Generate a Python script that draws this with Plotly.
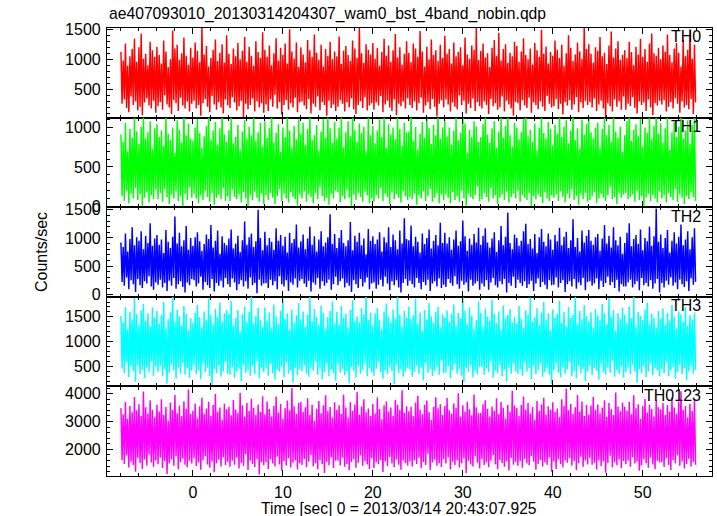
import numpy as np
import plotly.graph_objects as go
from plotly.subplots import make_subplots

# ---------------- data ----------------
title_text = "ae407093010_20130314204307_wam0_bst_4band_nobin.qdp"
x_title = "Time [sec] 0 = 2013/03/14 20:43:07.925"
y_title = "Counts/sec"
panel_names = ["TH0", "TH1", "TH2", "TH3", "TH0123"]
t_start = -8.0      # first time bin [s]
t_span = 64.0       # covered time [s]

# successive local peaks / troughs of each light curve (counts/sec)
th0_peaks = [
 1120, 980, 1260, 890, 1050, 1170, 1340, 960, 1200, 1430, 1010, 1090, 900, 1290, 1150, 1040,
 1210, 1070, 930, 1310, 1130, 870, 1000, 1480, 1180, 1240, 990, 1100, 1360, 1060, 910, 1190,
 1030, 1280, 1140, 950, 1560, 1080, 1220, 880, 1020, 1160, 1330, 970, 1110, 1250, 940, 1400,
 1090, 920, 1180, 1050, 1270, 1000, 1140, 1370, 960, 1210, 1060, 890, 1300, 1120, 1020, 1450,
 1160, 1040, 1230, 900, 1100, 1350, 980, 1190, 1070, 1260, 930, 1500, 1130, 1010, 1280, 870,
 1200, 1080, 950, 1320, 1150, 1040, 1410, 1110, 990, 1240, 880, 1170, 1060, 1290, 1000, 1130,
 1050, 1380, 920, 1140, 1220, 1070, 970, 1310, 1180, 1020, 1540, 1100, 940, 1250, 1160, 1080,
 1270, 1010, 1190, 890, 1120, 1340, 1060, 1230, 960, 1150, 1420, 1030, 1200, 910, 1090, 1300,
 1110, 950, 1260, 1180, 1040, 1470, 1130, 880, 1210, 1000, 1330, 1070, 1150, 970, 1240, 1020,
 1390, 1090, 1170, 930, 1280, 1050, 1120, 1200, 900, 1360, 1080, 1010, 1230, 1160, 1520, 990,
 1140, 1260, 1030, 1100, 870, 1190, 1320, 1060, 1440, 980, 1170, 1250, 940, 1110, 1050, 1290,
 1220, 960, 1130, 1350, 1070, 1000, 1180, 910, 1270, 1150, 1040, 1490, 1090, 1210, 930, 1120,
 1060, 1310, 1160, 1020, 1240, 890, 1100, 1400, 1190, 970, 1080, 1280, 1130, 1010, 1560, 1170,
 1250, 1090, 940, 1200, 1140, 1370, 1050, 1110, 920, 1230, 1460, 1030, 1180, 1300, 990, 1070,
 1150, 1020, 1290, 1120, 900, 1210, 1080, 1340, 1040, 1170, 960, 1260, 1430, 1100, 1060, 1190,
 1000, 1230, 1130, 1410, 1070, 950, 1180, 1270, 1110, 880, 1320, 1050, 1160, 1500, 1010, 1240,
]
th0_troughs = [
 260, 330, 190, 120, 380, 240, 300, 150, 210, 70, 280, 350, 230, 180, 310, 110,
 220, 290, 160, 400, 250, 200, 90, 320, 270, 140, 360, 230, 180, 300, 130, 260,
 310, 180, 240, 60, 270, 340, 210, 120, 390, 250, 160, 290, 200, 100, 330, 230,
 190, 370, 280, 150, 220, 310, 40, 260, 170, 240, 350, 130, 300, 200, 270, 110,
 250, 140, 330, 210, 410, 180, 290, 80, 240, 320, 160, 270, 200, 360, 120, 280,
 300, 230, 170, 340, 100, 260, 210, 380, 150, 290, 240, 60, 310, 190, 250, 140,
 210, 320, 260, 130, 280, 200, 350, 170, 90, 240, 300, 190, 370, 150, 230, 270,
 160, 280, 230, 390, 120, 250, 310, 200, 140, 330, 70, 260, 220, 300, 180, 350,
 240, 190, 300, 150, 270, 360, 110, 230, 290, 170, 340, 210, 50, 260, 320, 200,
 330, 250, 130, 280, 210, 170, 400, 240, 310, 100, 260, 190, 350, 140, 290, 220,
 180, 300, 240, 90, 340, 220, 270, 160, 200, 380, 130, 310, 250, 180, 60, 290,
 270, 150, 320, 230, 190, 360, 110, 280, 240, 170, 300, 210, 140, 390, 260, 200,
 220, 340, 170, 260, 80, 290, 230, 320, 160, 250, 370, 120, 280, 190, 310, 240,
 290, 200, 350, 140, 250, 310, 180, 40, 270, 220, 130, 330, 210, 300, 160, 380,
 160, 260, 220, 370, 190, 100, 300, 240, 280, 140, 330, 200, 70, 270, 230, 310,
 250, 320, 130, 210, 290, 180, 350, 260, 110, 300, 200, 240, 170, 340, 90, 280,
]

th1_peaks = [
 910, 820, 1060, 700, 980, 870, 1120, 950, 790, 1010, 1200, 860, 940, 1080, 730, 990,
 1040, 880, 960, 770, 1150, 920, 840, 1000, 680, 1090, 970, 810, 1220, 900, 1050, 860,
 830, 1000, 1110, 930, 740, 890, 1020, 1170, 850, 960, 1070, 780, 990, 1240, 910, 820,
 970, 1130, 800, 880, 1030, 720, 950, 1090, 860, 1010, 900, 1180, 830, 940, 1060, 760,
 1080, 870, 990, 1210, 810, 930, 1040, 690, 1000, 880, 1140, 960, 750, 1020, 850, 1100,
 920, 1060, 780, 980, 1160, 840, 900, 1030, 710, 950, 1110, 870, 1190, 990, 810, 1070,
 860, 1000, 1130, 750, 940, 1080, 890, 1230, 970, 820, 1050, 930, 1010, 700, 1150, 900,
 1020, 800, 960, 1100, 880, 1170, 740, 1040, 910, 1000, 850, 1120, 980, 770, 1060, 940,
 950, 1190, 830, 1010, 720, 920, 1070, 870, 1140, 990, 790, 1030, 900, 1250, 860, 1000,
 1090, 890, 1000, 780, 960, 1120, 840, 930, 1200, 1050, 680, 970, 880, 1080, 1010, 820,
 880, 1040, 1160, 910, 810, 990, 1080, 740, 950, 1130, 870, 1020, 1180, 900, 760, 1060,
 1000, 850, 940, 1110, 1210, 890, 970, 820, 1050, 710, 1000, 1140, 930, 860, 1070, 980,
 770, 1030, 920, 1170, 880, 1010, 1090, 800, 960, 1230, 840, 990, 730, 1100, 910, 1040,
 1120, 940, 860, 1000, 1060, 750, 980, 1190, 900, 1030, 820, 1150, 950, 870, 1010, 690,
 900, 1080, 1200, 830, 970, 1040, 890, 1110, 760, 1000, 930, 1160, 850, 1020, 1240, 920,
 1050, 810, 990, 1130, 720, 940, 1070, 880, 1010, 1180, 860, 960, 1090, 790, 1030, 1140,
]
th1_troughs = [
 130, 70, 200, 40, 160, 100, 230, 80, 150, 10, 110, 180, 50, 140, 90, 210,
 90, 170, 60, 220, 120, 30, 150, 100, 190, 70, 130, 5, 160, 80, 240, 110,
 160, 100, 40, 140, 80, 200, 120, 60, 170, 20, 110, 150, 90, 230, 70, 130,
 70, 210, 120, 90, 150, 50, 180, 100, 0, 140, 80, 190, 110, 60, 160, 30,
 140, 80, 170, 110, 30, 130, 220, 70, 160, 100, 50, 180, 120, 90, 10, 150,
 100, 190, 60, 150, 120, 40, 170, 90, 240, 130, 70, 110, 20, 160, 100, 200,
 180, 50, 130, 90, 210, 110, 0, 150, 80, 170, 120, 60, 190, 140, 40, 100,
 60, 140, 100, 230, 70, 160, 120, 30, 180, 90, 150, 110, 50, 200, 130, 80,
 120, 90, 160, 20, 140, 100, 190, 70, 130, 220, 60, 110, 170, 40, 150, 80,
 150, 110, 40, 180, 80, 130, 60, 200, 100, 10, 160, 120, 90, 140, 250, 70,
 90, 170, 120, 60, 230, 100, 140, 30, 110, 150, 80, 190, 50, 120, 160, 100,
 200, 60, 140, 110, 80, 170, 0, 130, 90, 150, 120, 40, 180, 100, 70, 140,
 110, 150, 70, 190, 120, 50, 160, 100, 210, 80, 130, 20, 150, 90, 170, 60,
 80, 130, 180, 40, 100, 160, 110, 70, 140, 240, 90, 120, 30, 170, 110, 150,
 170, 90, 120, 150, 60, 200, 80, 130, 10, 110, 160, 70, 140, 100, 50, 190,
 100, 140, 50, 170, 120, 80, 220, 60, 150, 110, 30, 130, 90, 180, 120, 70,
]

th2_peaks = [
 920, 840, 1080, 760, 980, 1190, 870, 1010, 950, 1120, 800, 1040, 910, 1260, 860, 990,
 1050, 880, 970, 730, 1140, 930, 820, 1020, 1380, 900, 1090, 850, 960, 1210, 790, 1000,
 860, 1010, 1100, 940, 770, 890, 1060, 980, 1230, 830, 950, 1130, 720, 1030, 910, 870,
 990, 1150, 810, 900, 1040, 750, 960, 1290, 880, 1010, 1080, 840, 940, 1500, 1000, 780,
 1110, 870, 1000, 930, 790, 1170, 950, 1050, 860, 1020, 740, 1090, 910, 980, 1240, 830,
 940, 1060, 800, 990, 1200, 880, 1030, 760, 970, 1120, 850, 920, 1010, 1420, 890, 1070,
 820, 1000, 1140, 910, 850, 960, 1280, 780, 1040, 930, 1090, 870, 990, 710, 1160, 950,
 1030, 890, 970, 1100, 760, 1010, 920, 1190, 840, 1060, 960, 800, 1130, 900, 1350, 980,
 960, 1220, 850, 1020, 930, 740, 1080, 890, 1000, 1150, 810, 950, 1050, 870, 1270, 910,
 1090, 900, 1010, 790, 970, 1130, 860, 940, 1310, 1030, 770, 990, 880, 1070, 920, 1180,
 880, 1040, 1170, 920, 830, 990, 1100, 750, 960, 1210, 870, 1020, 1450, 910, 800, 1060,
 1000, 860, 950, 1120, 1250, 890, 980, 810, 1070, 730, 1010, 1160, 930, 850, 1080, 970,
 790, 1050, 940, 1180, 870, 1020, 1110, 820, 960, 1330, 840, 1000, 760, 1130, 920, 1040,
 1140, 950, 880, 1010, 1070, 770, 990, 1230, 900, 1040, 830, 1190, 960, 870, 1020, 720,
 910, 1090, 1260, 850, 980, 1050, 890, 1150, 780, 1000, 940, 1200, 860, 1030, 1520, 930,
 1060, 820, 1000, 1140, 740, 950, 1100, 900, 1020, 1240, 870, 970, 1120, 800, 1010, 1170,
]
th2_troughs = [
 220, 150, 300, 90, 250, 180, 40, 270, 160, 110, 230, 190, 320, 140, 80, 210,
 170, 260, 120, 200, 60, 240, 150, 290, 100, 180, 230, 130, 30, 210, 160, 270,
 250, 140, 190, 310, 80, 220, 160, 110, 270, 50, 200, 150, 240, 120, 290, 180,
 130, 280, 210, 70, 180, 250, 140, 230, 100, 300, 160, 200, 20, 260, 150, 190,
 200, 110, 260, 160, 230, 90, 320, 180, 140, 250, 60, 210, 170, 280, 120, 240,
 270, 190, 130, 240, 50, 210, 170, 290, 100, 230, 150, 200, 260, 80, 180, 310,
 160, 230, 280, 120, 200, 150, 40, 250, 180, 110, 270, 140, 210, 300, 90, 190,
 210, 100, 170, 260, 140, 310, 190, 70, 230, 160, 250, 120, 30, 200, 270, 150,
 240, 180, 120, 290, 200, 90, 220, 160, 260, 60, 190, 230, 140, 280, 110, 170,
 130, 270, 200, 150, 320, 180, 100, 240, 170, 210, 50, 260, 150, 190, 230, 80,
 190, 140, 250, 80, 210, 290, 160, 120, 230, 180, 270, 30, 200, 150, 310, 110,
 260, 200, 150, 230, 110, 180, 240, 60, 190, 280, 130, 220, 170, 90, 250, 160,
 170, 300, 120, 200, 250, 40, 180, 230, 140, 270, 100, 210, 160, 290, 70, 220,
 230, 150, 190, 280, 90, 240, 130, 200, 310, 160, 220, 110, 260, 50, 180, 140,
 140, 210, 260, 120, 180, 230, 70, 290, 160, 200, 140, 250, 100, 190, 270, 30,
 200, 120, 240, 170, 300, 150, 210, 90, 260, 180, 130, 230, 60, 280, 170, 220,
]

th3_peaks = [
 1520, 1390, 1700, 1250, 1600, 1440, 1880, 1550, 1340, 1630, 1760, 1420, 1570, 1310, 1690, 1480,
 1620, 1360, 1540, 1800, 1270, 1450, 1590, 1930, 1400, 1650, 1510, 1330, 1720, 1560, 1230, 1470,
 1380, 1580, 1740, 1490, 1290, 1610, 1430, 1870, 1530, 1350, 1660, 1500, 1790, 1410, 1570, 1640,
 1560, 1820, 1320, 1470, 1640, 1210, 1550, 1710, 1400, 1600, 1960, 1370, 1520, 1680, 1440, 1300,
 1690, 1420, 1590, 1270, 1750, 1510, 1350, 1620, 1860, 1460, 1570, 1240, 1650, 1380, 1530, 1780,
 1450, 1610, 1300, 1540, 1900, 1410, 1660, 1500, 1340, 1730, 1580, 1260, 1490, 1620, 1810, 1370,
 1600, 1350, 1720, 1480, 1560, 1280, 1640, 1840, 1420, 1510, 1390, 1680, 1550, 1990, 1440, 1590,
 1330, 1570, 1680, 1430, 1250, 1610, 1770, 1500, 1390, 1650, 1460, 1920, 1540, 1310, 1620, 1480,
 1710, 1460, 1530, 1870, 1360, 1590, 1220, 1640, 1450, 1780, 1510, 1380, 1600, 1700, 1290, 1550,
 1490, 1630, 1400, 1560, 1750, 1320, 1580, 1470, 1950, 1620, 1350, 1690, 1520, 1260, 1430, 1810,
 1580, 1300, 1670, 1510, 1420, 1850, 1560, 1370, 1610, 1240, 1730, 1470, 1540, 1660, 1390, 1500,
 1370, 1720, 1460, 1280, 1630, 1550, 1890, 1410, 1500, 1680, 1330, 1590, 1800, 1440, 1570, 1230,
 1650, 1490, 1560, 1830, 1390, 1600, 1310, 1700, 1480, 1540, 1970, 1360, 1620, 1450, 1740, 1520,
 1410, 1590, 1270, 1660, 1530, 1440, 1760, 1580, 1350, 1880, 1500, 1640, 1220, 1570, 1460, 1690,
 1540, 1380, 1710, 1470, 1910, 1300, 1600, 1520, 1430, 1650, 1790, 1360, 1560, 1480, 1280, 1620,
 1460, 1670, 1340, 1580, 1420, 1740, 1500, 1260, 1610, 1550, 1400, 1700, 1320, 1530, 1450, 1590,
]
th3_troughs = [
 450, 360, 580, 280, 500, 400, 190, 520, 340, 430, 260, 470, 380, 600, 310, 490,
 390, 510, 300, 440, 150, 370, 540, 420, 250, 480, 350, 570, 330, 460, 270, 410,
 520, 340, 420, 240, 560, 380, 470, 300, 130, 440, 360, 510, 290, 400, 590, 350,
 330, 480, 270, 390, 450, 200, 530, 370, 420, 310, 500, 340, 610, 260, 460, 380,
 460, 310, 550, 360, 230, 430, 390, 490, 280, 580, 350, 410, 170, 470, 320, 440,
 400, 520, 350, 290, 470, 410, 600, 330, 450, 240, 380, 540, 300, 430, 360, 210,
 540, 370, 440, 320, 390, 160, 480, 410, 270, 510, 350, 430, 570, 300, 460, 380,
 310, 450, 580, 380, 250, 420, 340, 490, 400, 140, 530, 360, 440, 290, 390, 470,
 430, 290, 390, 510, 340, 470, 220, 560, 370, 440, 300, 400, 490, 330, 620, 360,
 370, 500, 260, 420, 550, 350, 440, 310, 180, 460, 390, 520, 280, 410, 340, 480,
 490, 330, 450, 380, 600, 270, 410, 360, 520, 300, 430, 190, 470, 350, 540, 400,
 350, 440, 310, 570, 390, 460, 240, 500, 340, 420, 560, 290, 380, 470, 330, 150,
 420, 550, 370, 280, 480, 350, 430, 590, 300, 400, 260, 510, 360, 450, 200, 390,
 510, 320, 460, 410, 230, 540, 380, 330, 470, 370, 610, 290, 420, 350, 490, 270,
 380, 470, 340, 530, 400, 170, 440, 360, 500, 280, 390, 560, 320, 460, 410, 300,
 440, 360, 580, 300, 420, 490, 250, 380, 530, 340, 460, 220, 400, 500, 350, 430,
]

th0123_peaks = [
 3480, 3250, 3700, 3090, 3560, 3330, 3880, 3400, 3620, 3200, 4080, 3510, 3290, 3760, 3420, 3150,
 3600, 3360, 3800, 3230, 3520, 3040, 3680, 3410, 3950, 3300, 3570, 3190, 3730, 3460, 4150, 3270,
 3390, 3650, 3120, 3540, 3850, 3280, 3470, 3710, 3210, 3590, 3990, 3350, 3500, 3060, 3640, 3440,
 3530, 3220, 3770, 3430, 3310, 4030, 3580, 3170, 3660, 3380, 3820, 3490, 3240, 3610, 3340, 3910,
 3260, 3720, 3450, 3180, 3560, 3900, 3320, 3630, 3100, 3480, 3750, 3400, 4200, 3550, 3280, 3670,
 3700, 3350, 3510, 3830, 3230, 3600, 3020, 3460, 3740, 3300, 3580, 3940, 3370, 3520, 3130, 3690,
 3420, 3580, 3270, 3960, 3500, 3140, 3690, 3380, 3610, 4060, 3250, 3540, 3800, 3330, 3470, 3200,
 3640, 3290, 3860, 3450, 3080, 3570, 3720, 3360, 3500, 3210, 3780, 3600, 3410, 4120, 3310, 3550,
 3370, 3530, 3190, 3680, 3920, 3430, 3260, 3600, 3750, 3340, 3050, 3520, 3870, 3480, 3620, 3230,
 3560, 3840, 3400, 3280, 3650, 3490, 4010, 3170, 3580, 3360, 3710, 3440, 3220, 3970, 3510, 3300,
 3310, 3620, 3760, 3460, 3180, 3540, 3390, 3830, 3270, 3700, 3490, 3110, 3600, 3350, 4100, 3570,
 3480, 3210, 3590, 3900, 3430, 3660, 3290, 3520, 3060, 3740, 3380, 3610, 3850, 3250, 3550, 3420,
 3690, 3340, 3470, 3150, 3800, 3560, 4180, 3400, 3630, 3280, 3510, 3950, 3360, 3720, 3200, 3590,
 3250, 3570, 3880, 3420, 3610, 3300, 3500, 3760, 3160, 3660, 3440, 3230, 4040, 3540, 3370, 3680,
 3530, 3390, 3710, 3260, 3940, 3480, 3620, 3090, 3550, 3820, 3320, 3600, 3450, 3180, 3770, 3510,
 3440, 3660, 3230, 3590, 3350, 3870, 3500, 3280, 3730, 4090, 3410, 3560, 3140, 3640, 3380, 3790,
]
th0123_troughs = [
 1620, 1480, 1780, 1350, 1560, 1440, 1200, 1690, 1510, 1300, 1640, 1420, 1810, 1530, 1380, 1600,
 1470, 1700, 1330, 1580, 1120, 1500, 1650, 1410, 1760, 1290, 1540, 1670, 1450, 1360, 1590, 1490,
 1680, 1400, 1530, 1270, 1610, 1750, 1460, 1340, 1570, 1180, 1500, 1630, 1390, 1720, 1440, 1560,
 1380, 1590, 1450, 1700, 1310, 1520, 1410, 1830, 1260, 1600, 1480, 1370, 1660, 1100, 1540, 1430,
 1550, 1300, 1640, 1490, 1390, 1740, 1460, 1230, 1580, 1420, 1690, 1350, 1520, 1610, 1280, 1500,
 1440, 1660, 1360, 1570, 1800, 1400, 1510, 1290, 1620, 1470, 1150, 1560, 1430, 1710, 1330, 1590,
 1600, 1420, 1700, 1380, 1480, 1250, 1550, 1650, 1340, 1520, 1780, 1410, 1580, 1460, 1300, 1680,
 1330, 1540, 1470, 1620, 1190, 1570, 1400, 1730, 1490, 1360, 1640, 1450, 1270, 1600, 1510, 1420,
 1570, 1390, 1610, 1480, 1700, 1320, 1550, 1440, 1840, 1260, 1530, 1630, 1410, 1500, 1370, 1660,
 1490, 1720, 1280, 1560, 1430, 1610, 1350, 1500, 1670, 1140, 1590, 1460, 1390, 1750, 1520, 1310,
 1650, 1440, 1530, 1370, 1590, 1800, 1470, 1290, 1620, 1510, 1380, 1570, 1240, 1690, 1450, 1550,
 1410, 1580, 1340, 1660, 1500, 1430, 1760, 1560, 1270, 1480, 1620, 1390, 1540, 1450, 1710, 1200,
 1560, 1300, 1640, 1470, 1360, 1590, 1520, 1690, 1420, 1580, 1250, 1500, 1740, 1380, 1600, 1460,
 1690, 1450, 1520, 1280, 1610, 1400, 1570, 1160, 1500, 1770, 1350, 1540, 1430, 1640, 1320, 1580,
 1470, 1600, 1380, 1720, 1490, 1560, 1230, 1420, 1650, 1510, 1340, 1700, 1460, 1290, 1590, 1530,
 1540, 1370, 1680, 1440, 1260, 1620, 1500, 1790, 1410, 1570, 1310, 1480, 1660, 1390, 1550, 1450,
]

peaks = [th0_peaks, th1_peaks, th2_peaks, th3_peaks, th0123_peaks]
troughs = [th0_troughs, th1_troughs, th2_troughs, th3_troughs, th0123_troughs]

# ---------------- styling ----------------
colors = ["#ff0000", "#00ff00", "#0000ff", "#00ffff", "#ff00ff"]
y_ranges = [[30, 1520], [-10, 1125], [-45, 1545], [95, 1905], [1045, 4260]]
y_dticks = [500, 500, 500, 500, 1000]
y_minor = [100, 100, 100, 100, 200]
x_range = [-9.55, 57.7]

FONT = "Liberation Sans, Arial, Helvetica, sans-serif"
W, H = 717, 516
L, R, T, B = 107, 5, 28, 40

fig = make_subplots(rows=5, cols=1, shared_xaxes=True, vertical_spacing=0)

for i in range(5):
    vals = []
    for p, q in zip(peaks[i], troughs[i]):
        vals.extend([p, q])
    n = len(vals)
    t = t_start + t_span * np.arange(n) / n
    fig.add_trace(go.Scatter(x=t, y=vals, mode="lines",
                             line=dict(color=colors[i], width=1.45, simplify=False),
                             showlegend=False, hoverinfo="skip"),
                  row=i + 1, col=1)

axis_common = dict(showline=True, linecolor="black", linewidth=1.2, mirror="allticks",
                   ticks="inside", tickcolor="black", tickwidth=1.1, ticklen=6,
                   showgrid=False, zeroline=False, automargin=False,
                   tickfont=dict(family=FONT, size=16, color="black"))

for i in range(5):
    fig.update_xaxes(range=x_range, dtick=10, tick0=0,
                     minor=dict(ticks="inside", dtick=2, ticklen=3, tickcolor="black", showgrid=False),
                     showticklabels=(i == 4), ticklabelstandoff=2,
                     row=i + 1, col=1, **axis_common)
    fig.update_yaxes(range=y_ranges[i], dtick=y_dticks[i], tick0=0,
                     minor=dict(ticks="inside", dtick=y_minor[i], ticklen=3, tickcolor="black", showgrid=False),
                     ticklabelstandoff=2,
                     row=i + 1, col=1, **axis_common)

annotations = []
for i, name in enumerate(panel_names):
    yref = "y domain" if i == 0 else f"y{i + 1} domain"
    annotations.append(dict(text=name, xref="paper", x=(703 - L) / (W - L - R), xanchor="right",
                            yref=yref, y=0.9, yanchor="middle", showarrow=False,
                            font=dict(family=FONT, size=16, color="black")))
plot_h = H - T - B
annotations.append(dict(text=title_text, xref="paper", x=0, xanchor="left",
                        yref="paper", y=1 + (T - 14) / plot_h, yanchor="middle", showarrow=False,
                        font=dict(family=FONT, size=15.7, color="black")))
annotations.append(dict(text=x_title, xref="paper", x=(399 - L) / (W - L - R), xanchor="center",
                        yref="paper", y=-(508 - (H - B)) / plot_h, yanchor="middle", showarrow=False,
                        font=dict(family=FONT, size=15.6, color="black")))
annotations.append(dict(text=y_title, xref="paper", x=(41 - L) / (W - L - R), xanchor="center",
                        yref="paper", y=0.5, yanchor="middle", textangle=-90, showarrow=False,
                        font=dict(family=FONT, size=16, color="black")))

fig.update_layout(width=W, height=H, margin=dict(l=L, r=R, t=T, b=B, autoexpand=False),
                  paper_bgcolor="white", plot_bgcolor="white",
                  font=dict(family=FONT, color="black"),
                  annotations=annotations)

fig.write_html("out.html", config={"displayModeBar": False},
               post_script="document.body.style.margin='0';document.body.style.overflow='hidden';")
